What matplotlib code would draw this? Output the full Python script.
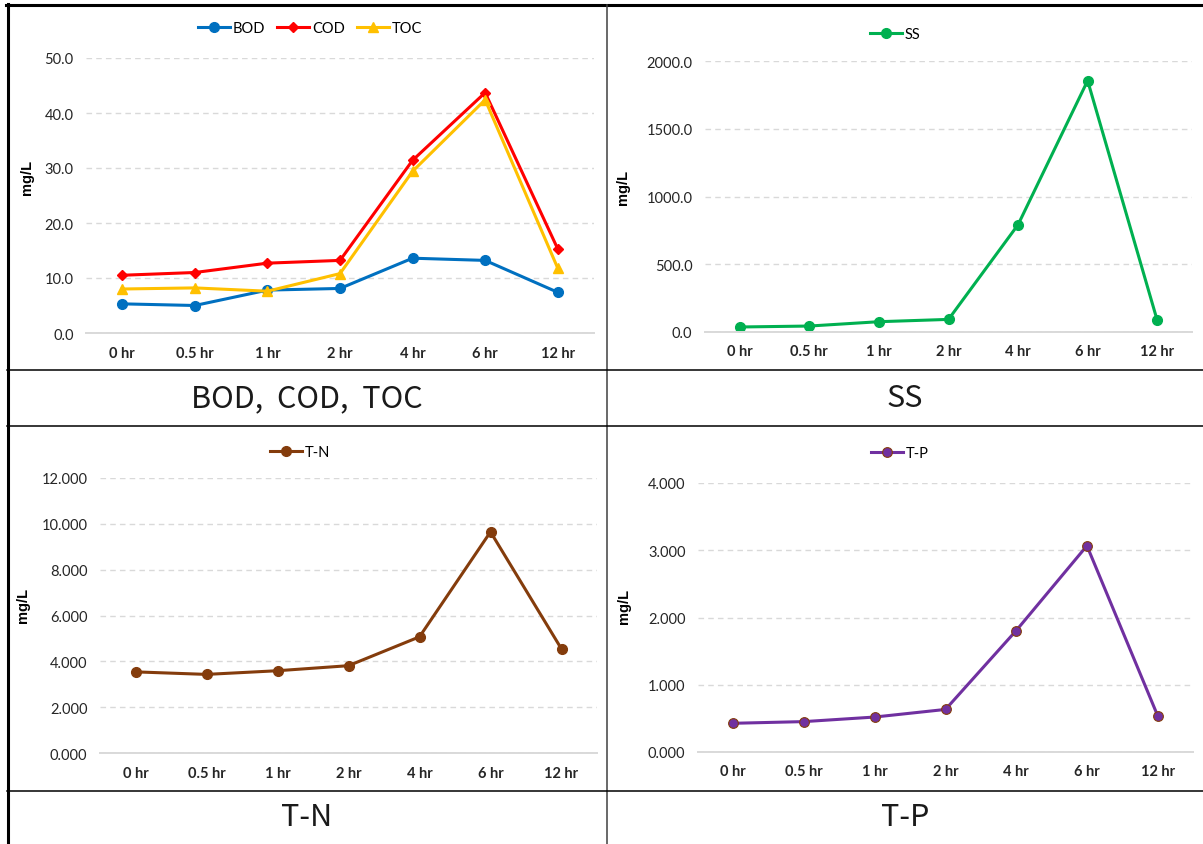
import matplotlib
matplotlib.use("Agg")
import matplotlib.pyplot as plt
from matplotlib.lines import Line2D
from matplotlib.ticker import FormatStrFormatter, MultipleLocator

# sampling times
hours = ["0 hr", "0.5 hr", "1 hr", "2 hr", "4 hr", "6 hr", "12 hr"]

# concentrations, mg/L
bod = [5.3, 5.0, 7.8, 8.1, 13.6, 13.2, 7.4]
cod = [10.5, 11.0, 12.7, 13.2, 31.4, 43.7, 15.3]
toc = [8.0, 8.2, 7.6, 10.8, 29.4, 42.4, 11.8]
ss = [37, 44, 76, 93, 792, 1855, 86]
tn = [3.54, 3.43, 3.59, 3.81, 5.07, 9.65, 4.54]
tp = [0.427, 0.452, 0.520, 0.633, 1.806, 3.067, 0.540]

captions = ["BOD,  COD,  TOC", "SS", "T-N", "T-P"]

W, H = 1203, 845
TICK_FONT = "Lato"
CAP_FONT = ["Noto Sans CJK KR", "DejaVu Sans"]


def px_rect(l, t, r, b):
    return [l / W, 1 - b / H, (r - l) / W, (b - t) / H]


def fx(x):
    return x / W


def fy(y):
    return 1 - y / H


def style_axes(ax, ymax, step, fmt, label_xy):
    x = range(len(hours))
    ax.set_xlim(-0.5, len(hours) - 0.5)
    ax.set_ylim(0, ymax)
    ax.yaxis.set_major_locator(MultipleLocator(step))
    ax.yaxis.set_major_formatter(FormatStrFormatter(fmt))
    ax.set_xticks(list(x))
    ax.set_xticklabels(hours, fontfamily=TICK_FONT, fontweight="bold",
                       fontsize=10.5, color="#262626")
    for t in ax.get_yticklabels():
        t.set_fontfamily(TICK_FONT)
        t.set_fontsize(10.5)
        t.set_color("#262626")
    ax.tick_params(axis="both", length=0)
    ax.tick_params(axis="y", pad=9)
    ax.tick_params(axis="x", pad=9)
    for s in ["top", "right", "left"]:
        ax.spines[s].set_visible(False)
    ax.spines["bottom"].set_color("#D9D9D9")
    ax.spines["bottom"].set_linewidth(1.4)
    ax.yaxis.grid(True, linestyle=(0, (4, 3)), color="#D9D9D9", linewidth=1)
    ax.set_axisbelow(True)
    ax.set_ylabel("mg/L", fontfamily="Liberation Sans", fontweight="bold",
                  fontsize=10.5)
    ax.yaxis.set_label_coords(*label_xy)


def add_legend(ax, cx, cy):
    ax.legend(loc="center", bbox_to_anchor=(fx(cx), fy(cy)),
              bbox_transform=ax.figure.transFigure, ncol=3, frameon=False,
              prop={"family": TICK_FONT, "size": 10.5}, handlelength=2.2,
              handletextpad=0.2, columnspacing=0.8)


fig = plt.figure(figsize=(W / 100, H / 100), dpi=100)

# BOD / COD / TOC
ax1 = fig.add_axes(px_rect(86, 59, 594, 334))
ax1.plot(range(7), bod, color="#0070C0", lw=2.2, marker="o", ms=7, label="BOD")
ax1.plot(range(7), cod, color="#FF0000", lw=2.2, marker="D", ms=5, label="COD")
ax1.plot(range(7), toc, color="#FFC000", lw=2.2, marker="^", ms=7, label="TOC")
style_axes(ax1, 50, 10, "%.1f", ((34 - 86) / 508, (334 - 177) / 275))
add_legend(ax1, 310, 29)

# SS
ax2 = fig.add_axes(px_rect(705, 62, 1192, 333))
ax2.plot(range(7), ss, color="#00B050", lw=2.2, marker="o", ms=7, label="SS")
style_axes(ax2, 2000, 500, "%.1f", ((630 - 705) / 487, (333 - 187) / 271))
add_legend(ax2, 895, 35)

# T-N
ax3 = fig.add_axes(px_rect(100, 479, 597, 754))
ax3.plot(range(7), tn, color="#843C0C", lw=2.2, marker="o", ms=7, label="T-N")
style_axes(ax3, 12, 2, "%.3f", ((30 - 100) / 497, (754 - 605) / 275))
add_legend(ax3, 300, 453)

# T-P
ax4 = fig.add_axes(px_rect(698, 484, 1193, 753))
ax4.plot(range(7), tp, color="#7030A0", lw=2.2, marker="o", ms=7,
         markeredgecolor="#843C0C", markeredgewidth=0.8, label="T-P")
style_axes(ax4, 4, 1, "%.3f", ((631 - 698) / 495, (753 - 606) / 269))
add_legend(ax4, 900, 454)

# table frame around the four panels
frame = [
    ((6, 1203), (6, 6), 2.2, "black"),
    ((7.5, 7.5), (5, 845), 2.2, "black"),
    ((607, 607), (6, 845), 1.1, "#404040"),
    ((7, 1203), (371, 371), 1.1, "black"),
    ((7, 1203), (427, 427), 1.1, "black"),
    ((7, 1203), (792, 792), 1.1, "black"),
]
for xs, ys, lw, c in frame:
    fig.add_artist(Line2D([fx(v) for v in xs], [fy(v) for v in ys],
                          transform=fig.transFigure, lw=lw, color=c))

# panel captions
cap_pos = [(307, 399), (905, 399), (307, 818), (905, 818)]
for text, (cx, cy) in zip(captions, cap_pos):
    fig.text(fx(cx), fy(cy), text, ha="center", va="center",
             family=CAP_FONT, fontsize=22, color="#1a1a1a")

fig.savefig("out.png", dpi=100)
